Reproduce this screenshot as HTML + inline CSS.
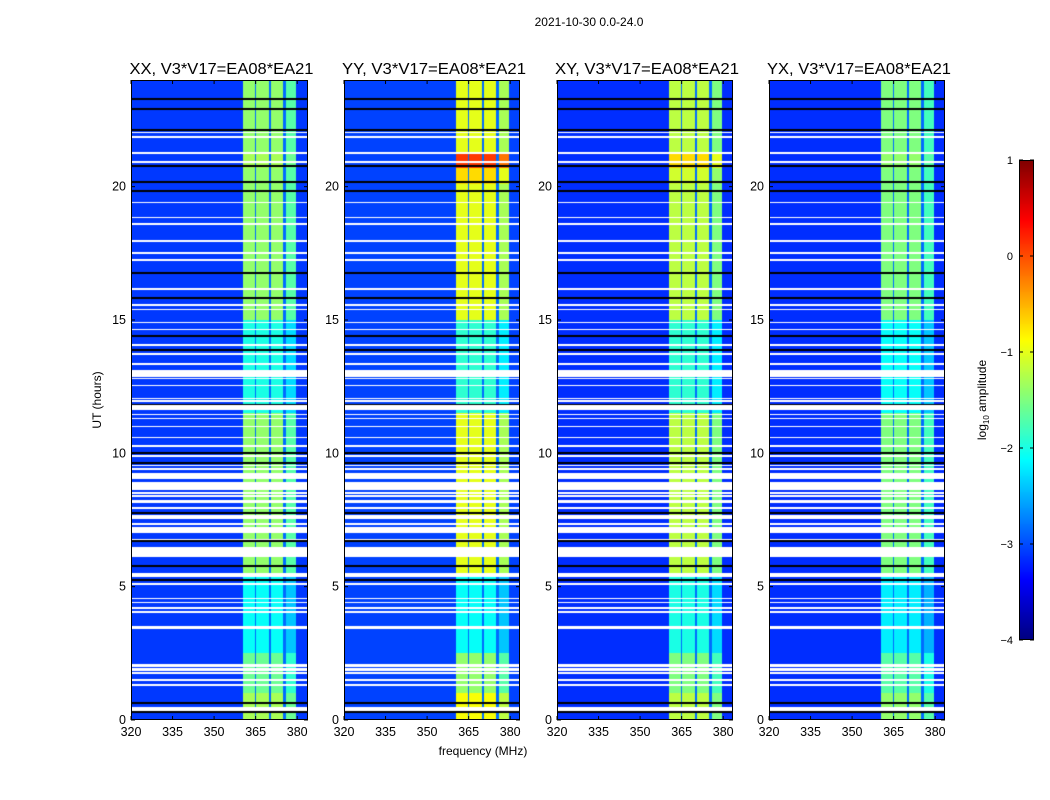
<!DOCTYPE html>
<html><head><meta charset="utf-8">
<style>
html,body{margin:0;padding:0;background:#fff;}
#wrap{position:relative;width:1050px;height:800px;font-family:"Liberation Sans",sans-serif;}
canvas{position:absolute;}
svg{position:absolute;left:0;top:0;}
</style></head>
<body>
<div id="wrap">
<canvas id="c0" width="177" height="640" style="left:131px;top:80px"></canvas>
<canvas id="c1" width="176" height="640" style="left:344px;top:80px"></canvas>
<canvas id="c2" width="176" height="640" style="left:557px;top:80px"></canvas>
<canvas id="c3" width="176" height="640" style="left:769px;top:80px"></canvas>
<canvas id="cb" width="15" height="480" style="left:1019px;top:160px"></canvas>
<svg id="ov" width="1050" height="800"></svg>
</div>
<script>
const panelNames = ["XX, V3*V17=EA08*EA21","YY, V3*V17=EA08*EA21","XY, V3*V17=EA08*EA21","YX, V3*V17=EA08*EA21"];
const xTicks = [320,335,350,365,380];
const yTicks = [0,5,10,15,20];
const cbTicks = [1,0,-1,-2,-3,-4];
// flagged (white) time ranges in hours
const gapStarts = [22.0,21.84,21.22,20.9,19.37,18.81,18.58,17.94,17.49,17.23,16.14,15.54,15.36,14.87,14.61,14.04,13.69,13.33,12.86,12.77,12.51,12.02,11.94,11.63,11.42,11.27,10.97,10.56,10.25,9.86,9.51,9.39,9.04,8.63,8.49,8.38,8.14,7.93,7.54,7.33,7.01,6.73,6.11,5.36,5.08,4.52,4.37,4.18,4.03,3.41,1.99,1.84,1.74,1.46,1.29,0.34];
const gapEnds   = [22.06,21.9,21.3,20.96,19.43,18.87,18.64,18.0,17.55,17.29,16.2,15.6,15.42,14.93,14.67,14.1,13.76,13.39,13.13,12.83,12.57,12.08,12.0,11.81,11.48,11.33,11.03,10.62,10.31,9.94,9.57,9.45,9.26,8.93,8.55,8.44,8.25,7.99,7.69,7.39,7.24,6.79,6.49,5.51,5.14,4.58,4.43,4.24,4.09,3.52,2.1,1.95,1.8,1.54,1.35,0.49];
const blackLines = [23.29,22.91,22.12,20.77,20.17,19.84,16.76,15.83,14.4,13.88,11.83,10.01,9.64,7.76,6.71,5.78,5.25,0.64,0.3];
// time blocks for band brightness (log10 amplitude)
const blockStarts = [0,1,2.5,5.5,9.6,11.5,15,20.1,20.7,21.3];
const blockEnds   = [1,2.5,5.5,9.6,11.5,15,20.1,20.7,21.3,24];
const bandXX = [-1.3,-1.6,-2.1,-1.4,-1.4,-2.0,-1.4,-1.4,-1.3,-1.4];
const bandYY = [-0.9,-1.4,-2.1,-1.0,-1.0,-1.9,-1.0,-0.7,0.1,-1.0];
const bandXY = [-1.2,-1.5,-2.0,-1.2,-1.2,-1.9,-1.2,-1.1,-0.7,-1.2];
const bandYX = [-1.4,-1.7,-2.2,-1.5,-1.5,-2.1,-1.5,-1.5,-1.4,-1.5];
const bandLevels = [bandXX,bandYY,bandXY,bandYX];
const bgLevels = [-3.1,-3.05,-3.15,-3.15];
// subband frequency limits (MHz)
const subLo = [360.5,365.3,370.7,375.8];
const subHi = [364.6,369.9,374.9,379.5];
const subOffset = [0,0,0,-0.3];

const F0=320, F1=383.9, H1=24, PH=640;
const panelX=[131,344,557,769], panelW=[177,176,176,176];

function jet(t){t=Math.max(0,Math.min(1,t));
  const r=Math.max(0,Math.min(1,1.5-Math.abs(4*t-3)));
  const g=Math.max(0,Math.min(1,1.5-Math.abs(4*t-2)));
  const b=Math.max(0,Math.min(1,1.5-Math.abs(4*t-1)));
  return [r*255|0,g*255|0,b*255|0];}
function vcol(v){return jet((v+4)/5);}

for(let p=0;p<4;p++){
  const cv=document.getElementById('c'+p),ctx=cv.getContext('2d');
  const W=cv.width,img=ctx.createImageData(W,PH);
  for(let y=0;y<PH;y++){
    const h=(PH-y-0.5)/PH*H1;
    let mode=0;
    for(let i=0;i<gapStarts.length;i++) if(h>=gapStarts[i]&&h<=gapEnds[i]) mode=1;
    for(let i=0;i<blackLines.length;i++) if(Math.abs(h-blackLines[i])<0.025) mode=2;
    let lvl=bandLevels[p][0];
    for(let i=0;i<blockStarts.length;i++) if(h>=blockStarts[i]&&h<blockEnds[i]) lvl=bandLevels[p][i];
    for(let x=0;x<W;x++){
      const f=F0+(x+0.5)/177*(F1-F0);
      let c;
      if(mode===1) c=[255,255,255];
      else if(mode===2) c=[0,0,0];
      else{
        let v=bgLevels[p];
        if(f>=subLo[0]&&f<=subHi[3]) v=-2.85;
        for(let s=0;s<4;s++) if(f>=subLo[s]&&f<=subHi[s]) v=lvl+subOffset[s];
        c=vcol(v);
      }
      const k=(y*W+x)*4; img.data[k]=c[0];img.data[k+1]=c[1];img.data[k+2]=c[2];img.data[k+3]=255;
    }
  }
  ctx.putImageData(img,0,0);
}
// colorbar
(function(){const cv=document.getElementById('cb'),ctx=cv.getContext('2d');
 for(let y=0;y<480;y++){const v=1-(y+0.5)/480*5;const c=vcol(v);ctx.fillStyle=`rgb(${c[0]},${c[1]},${c[2]})`;ctx.fillRect(0,y,15,1);}})();

const NS="http://www.w3.org/2000/svg",ov=document.getElementById('ov');
function mk(tag,attrs,txt){const e=document.createElementNS(NS,tag);for(const k in attrs)e.setAttribute(k,attrs[k]);if(txt!==undefined)e.textContent=txt;ov.appendChild(e);return e;}
function xs(p,f){return panelX[p]+(f-F0)/(F1-F0)*177;}
function ys(h){return 720-h/H1*PH;}
for(let p=0;p<4;p++){
  const x0=panelX[p],w=panelW[p];
  const fr=mk('rect',{x:x0+0.5,y:80.5,width:w-1,height:639,fill:'none',stroke:'#000','stroke-width':1});
  
  
  const t=mk('text',{x:x0+w/2+2,y:74,'text-anchor':'middle','font-size':16,textLength:184,lengthAdjust:'spacingAndGlyphs'},panelNames[p]);
  
  
  xTicks.forEach(v=>{const x=xs(p,v);
    mk('line',{x1:x,x2:x,y1:720,y2:716,stroke:'#000'});mk('line',{x1:x,x2:x,y1:80,y2:84,stroke:'#000'});
    const l=mk('text',{x:x,y:736,'text-anchor':'middle','font-size':12.5},String(v));
    
    });
  yTicks.forEach(v=>{const y=ys(v);
    mk('line',{x1:x0,x2:x0+4,y1:y,y2:y,stroke:'#000'});mk('line',{x1:x0+w,x2:x0+w-4,y1:y,y2:y,stroke:'#000'});
    const l=mk('text',{x:x0-5,y:y+4,'text-anchor':'end','font-size':12.5},String(v));
    
    });
}
const st=mk('text',{x:589,y:26,'text-anchor':'middle','font-size':12},'2021-10-30 0.0-24.0');


const yl=mk('text',{x:0,y:0,transform:'translate(101,400) rotate(-90)','text-anchor':'middle','font-size':12},'UT (hours)');


const xl=mk('text',{x:483,y:755,'text-anchor':'middle','font-size':12},'frequency (MHz)');


mk('rect',{x:1019.5,y:160.5,width:14,height:479,fill:'none',stroke:'#000'});
cbTicks.forEach(v=>{const y=160+(1-v)/5*480;
  mk('line',{x1:1019,x2:1023,y1:y,y2:y,stroke:'#000'});mk('line',{x1:1034,x2:1030,y1:y,y2:y,stroke:'#000'});
  const l=mk('text',{x:1013,y:y+4,'text-anchor':'end','font-size':11},String(v).replace('-','\u2212'));
  
  });
const cl=mk('text',{x:0,y:0,transform:'translate(986,400) rotate(-90)','text-anchor':'middle','font-size':12});


cl.innerHTML='log<tspan font-size="8" dy="3">10</tspan><tspan dy="-3"> amplitude</tspan>';
</script>
</body></html>
